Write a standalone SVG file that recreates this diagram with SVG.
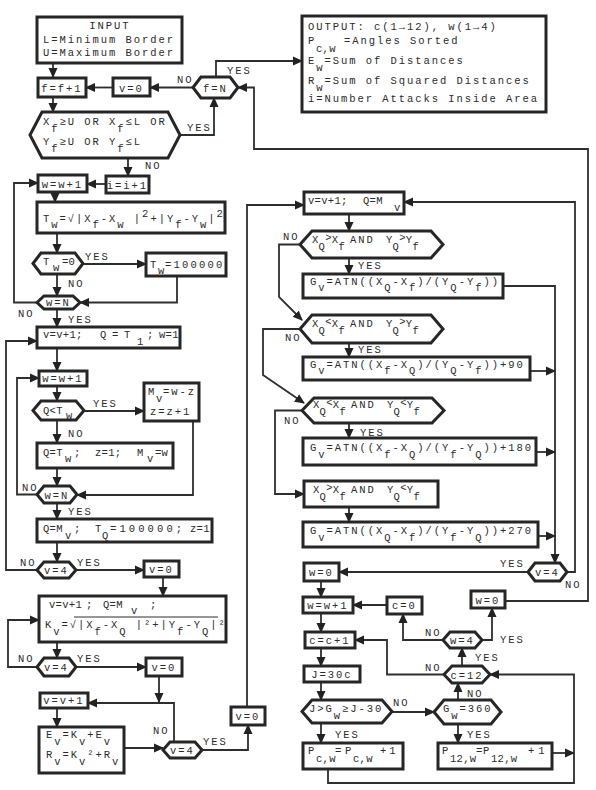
<svg xmlns="http://www.w3.org/2000/svg" width="596" height="790" viewBox="0 0 596 790">
<defs>
<style>
.b{fill:#fff;stroke:#262626;stroke-width:3}
.l{fill:none;stroke:#2e2e2e;stroke-width:1.8;marker-end:url(#ah)}
.n{fill:none;stroke:#2e2e2e;stroke-width:1}
.t{font-family:"Liberation Mono","DejaVu Sans Mono",monospace;font-size:10.5px;letter-spacing:1.95px;fill:#2b2b2b}
.m{text-anchor:middle}
.k{letter-spacing:0.3px}
</style>
<marker id="ah" markerUnits="userSpaceOnUse" markerWidth="10" markerHeight="10" viewBox="0 0 10 10" refX="9" refY="5" orient="auto"><path d="M0,0.5 L10,5 L0,9.5 z" fill="#222"/></marker>
</defs>
<rect width="596" height="790" fill="#fff"/>

<g id="connectors">
<path class="l" d="M53,63 V77"/>
<path class="l" d="M193,87.5 H150"/>
<path class="l" d="M113,87.5 H86"/>
<path class="l" d="M216,77 V61 H302"/>
<path class="l" d="M505,601 H588 V149 H254 V87.5 H238"/>
<path class="l" d="M53,97 V112"/>
<path class="l" d="M180,135 H214 V98"/>
<path class="l" d="M128,158 V176"/>
<path class="l" d="M106,184 H87"/>
<path class="l" d="M55,192 V202"/>
<path class="l" d="M57,233 V253"/>
<path class="l" d="M83,264 H146"/>
<path class="l" d="M177,276 V302.5 H80"/>
<path class="l" d="M57,274 V296"/>
<path class="l" d="M37,302.5 H14 V183 H38"/>
<path class="l" d="M57,309 V327"/>
<path class="l" d="M57,348 V371"/>
<path class="l" d="M57,386 V401"/>
<path class="l" d="M84,411 H144"/>
<path class="l" d="M193,421 V495 H77"/>
<path class="l" d="M57,420 V443"/>
<path class="l" d="M57,468 V486"/>
<path class="l" d="M37,494.5 H17 V378 H39"/>
<path class="l" d="M57,503 V519"/>
<path class="l" d="M57,542 V562"/>
<path class="l" d="M76,570 H144"/>
<path class="l" d="M37,570 H6 V341 H37"/>
<path class="l" d="M163,577 V596"/>
<path class="l" d="M57,642 V658"/>
<path class="l" d="M37,667 H8 V620 H39"/>
<path class="l" d="M76,667 H146"/>
<path class="l" d="M159,676 V702"/>
<path class="l" d="M174,742 V703 H88"/>
<path class="l" d="M57,708 V727"/>
<path class="l" d="M124,748 H163"/>
<path class="l" d="M202,750 H248 V725"/>
<path class="l" d="M247,707 V205 H304"/>
<path class="l" d="M567,572 H575 V202 H404"/>
<path class="l" d="M349,214 V231"/>
<path class="l" d="M300,244.5 H279 V297 L302,320"/>
<path class="l" d="M349,258 V274"/>
<path class="l" d="M503,286 H555 V563"/>
<path class="l" d="M300,329 H263 V375 L304,403"/>
<path class="l" d="M349,343 V357"/>
<path class="l" d="M530,371 H555"/>
<path class="l" d="M302,410.5 H275 V494 H304"/>
<path class="l" d="M349,423 V438"/>
<path class="l" d="M536,452 H555"/>
<path class="l" d="M349,507 V522"/>
<path class="l" d="M538,536 H555"/>
<path class="l" d="M528,572 H339"/>
<path class="l" d="M321,581 V597"/>
<path class="l" d="M387,605 H353"/>
<path class="l" d="M443,640 H403 V614"/>
<path class="l" d="M482,640 H492 V608"/>
<path class="l" d="M321,613 V632"/>
<path class="l" d="M462,666 V648"/>
<path class="l" d="M444,674.5 H387 V640 H355"/>
<path class="l" d="M321,648 V666"/>
<path class="l" d="M321,682 V700"/>
<path class="l" d="M392,712 H434"/>
<path class="l" d="M458,700 V683"/>
<path class="l" d="M458,724 V743"/>
<path class="l" d="M321,723 V743"/>
<path class="l" d="M552,753 H574"/>
<path class="l" d="M328,769 V783 H574 V674.5 H490"/>
</g>

<g id="edge-labels" class="t">
<text x="177" y="83">NO</text>
<text x="227" y="74">YES</text>
<text x="187" y="131">YES</text>
<text x="145" y="169">NO</text>
<text x="85" y="260">YES</text>
<text x="68" y="287">NO</text>
<text x="18" y="317">NO</text>
<text x="68" y="323">YES</text>
<text x="93" y="407">YES</text>
<text x="68" y="437">NO</text>
<text x="22" y="491">NO</text>
<text x="68" y="515">YES</text>
<text x="20" y="566">NO</text>
<text x="77" y="566">YES</text>
<text x="18" y="662">NO</text>
<text x="77" y="662">YES</text>
<text x="153" y="734">NO</text>
<text x="203" y="745">YES</text>
<text x="283" y="240">NO</text>
<text x="358" y="269">YES</text>
<text x="285" y="341">NO</text>
<text x="358" y="353">YES</text>
<text x="284" y="424">NO</text>
<text x="360" y="436">YES</text>
<text x="500" y="567">YES</text>
<text x="565" y="588">NO</text>
<text x="425" y="636">NO</text>
<text x="500" y="643">YES</text>
<text x="475" y="661">YES</text>
<text x="425" y="671">NO</text>
<text x="393" y="706">NO</text>
<text x="467" y="697">NO</text>
<text x="467" y="738">YES</text>
<text x="335" y="738">YES</text>
</g>

<g id="input">
<rect class="b" x="37" y="17" width="145" height="46"/>
<text class="t m" x="110" y="28.5">INPUT</text>
<text class="t" x="43" y="43">L=Minimum Border</text>
<text class="t" x="43" y="56">U=Maximum Border</text>
</g>
<g id="f-inc"><rect class="b" x="38" y="78" width="48" height="19"/><text class="t m" x="62" y="91.5">f=f+1</text></g>
<g id="v0-a"><rect class="b" x="113" y="78" width="37" height="18"/><text class="t m" x="131.5" y="91.5">v=0</text></g>
<g id="f-eq-n"><polygon class="b" points="193,87.5 201,77 230,77 238,87.5 230,98 201,98"/><text class="t m" x="215.5" y="91.5">f=N</text></g>
<g id="bounds">
<polygon class="b" points="30,135 42,112 168,112 180,135 168,158 42,158"/>
<text class="t"><tspan x="43" y="125">X</tspan><tspan y="132">f</tspan><tspan y="125">≥U OR X</tspan><tspan y="132">f</tspan><tspan y="125">≤L OR</tspan></text>
<text class="t"><tspan x="43" y="145">Y</tspan><tspan y="152">f</tspan><tspan y="145">≥U OR Y</tspan><tspan y="152">f</tspan><tspan y="145">≤L</tspan></text>
</g>
<g id="i-inc"><rect class="b" x="106" y="176" width="43" height="17"/><text class="t m" x="127.5" y="188.5">i=i+1</text></g>
<g id="w-inc-1"><rect class="b" x="38" y="175" width="49" height="17"/><text class="t m" x="62.5" y="187.5">w=w+1</text></g>
<g id="tw">
<rect class="b" x="37" y="202" width="188" height="31"/>
<text class="t"><tspan x="43" y="222">T</tspan><tspan y="228">w</tspan><tspan y="222">=√|X</tspan><tspan y="228">f</tspan><tspan y="222">-X</tspan><tspan y="228">w</tspan><tspan y="222"> |</tspan><tspan y="217">2</tspan><tspan y="222">+|Y</tspan><tspan y="228">f</tspan><tspan y="222">-Y</tspan><tspan y="228">w</tspan><tspan y="222">|</tspan><tspan y="217">2</tspan></text>
</g>
<g id="tw-zero"><polygon class="b" points="33,263.5 41,253 75,253 83,263.5 75,274 41,274"/>
<text class="t"><tspan x="43" y="265">T</tspan><tspan x="53" y="271">w</tspan><tspan class="k" x="62" y="265">=0</tspan></text></g>
<g id="tw-big"><rect class="b" x="146" y="253" width="80" height="23"/>
<text class="t"><tspan x="150" y="268">T</tspan><tspan x="158" y="274">w</tspan><tspan x="165" y="268" style="letter-spacing:2.2px">=100000</tspan></text></g>
<g id="w-eq-n-1"><polygon class="b" points="37,302.5 44,296 73,296 80,302.5 73,309 44,309"/><text class="t m" x="58.5" y="306">w=N</text></g>
<g id="init-q">
<rect class="b" x="37" y="327" width="143" height="21"/>
<text class="t"><tspan class="k" x="43" y="338">v=v+1;</tspan><tspan x="100" y="338">Q</tspan><tspan x="112" y="338">=</tspan><tspan x="124" y="338">T</tspan><tspan x="137" y="345">1</tspan><tspan x="147" y="338">;</tspan><tspan class="k" x="159" y="338">w=1</tspan></text>
</g>
<g id="w-inc-2"><rect class="b" x="39" y="371" width="48" height="15"/><text class="t m" x="63" y="381.5">w=w+1</text></g>
<g id="q-lt-tw"><polygon class="b" points="33,410.5 41,401 76,401 84,410.5 76,420 41,420"/>
<text class="t"><tspan class="k" x="43" y="413.5">Q&lt;T</tspan><tspan x="66" y="419">w</tspan></text></g>
<g id="mv">
<rect class="b" x="144" y="383" width="55" height="38"/>
<text class="t"><tspan x="148" y="395">M</tspan><tspan x="156" y="402">v</tspan><tspan x="163" y="395">=w-z</tspan></text>
<text class="t" x="150" y="415">z=z+1</text>
</g>
<g id="q-tw">
<rect class="b" x="37" y="443" width="136" height="25"/>
<text class="t"><tspan class="k" x="43" y="456">Q=T</tspan><tspan x="65" y="462">w</tspan></text>
<text class="t"><tspan x="74" y="456">;</tspan><tspan class="k" x="95" y="456">z=1;</tspan><tspan x="137" y="456">M</tspan><tspan x="147" y="462">v</tspan><tspan class="k" x="155" y="456">=w</tspan></text>
</g>
<g id="w-eq-n-2"><polygon class="b" points="37,494.5 44,486 70,486 77,494.5 70,503 44,503"/><text class="t m" x="57" y="498.5">w=N</text></g>
<g id="q-mv">
<rect class="b" x="37" y="519" width="175" height="23"/>
<text class="t"><tspan class="k" x="43" y="532">Q=M</tspan><tspan x="65" y="539">v</tspan></text>
<text class="t"><tspan x="74" y="532">;</tspan><tspan x="95" y="532">T</tspan><tspan x="102" y="539">Q</tspan><tspan x="110" y="532" style="letter-spacing:3.1px">=100000;</tspan><tspan class="k" x="190" y="532">z=1</tspan></text>
</g>
<g id="v-eq-4-a"><polygon class="b" points="37,570 44,562 69,562 76,570 69,578 44,578"/><text class="t m" x="56.5" y="574">v=4</text></g>
<g id="v0-b"><rect class="b" x="144" y="561" width="35" height="16"/><text class="t m" x="161.5" y="573">v=0</text></g>
<g id="kv">
<rect class="b" x="39" y="596" width="187" height="46"/>
<text class="t"><tspan class="k" x="49" y="608">v=v+1</tspan><tspan x="86" y="608">;</tspan><tspan class="k" x="103" y="608">Q=M</tspan><tspan x="131" y="614">v</tspan><tspan x="150" y="608">;</tspan></text>
<text class="t"><tspan x="45" y="628">K</tspan><tspan y="635">v</tspan><tspan y="628">=√|X</tspan><tspan y="635">f</tspan><tspan y="628">-X</tspan><tspan y="635">Q</tspan><tspan y="628"> |²+|Y</tspan><tspan y="635">f</tspan><tspan y="628">-Y</tspan><tspan y="635">Q</tspan><tspan y="628">|²</tspan></text>
<line class="n" x1="74" y1="617" x2="218" y2="617"/>
</g>
<g id="v-eq-4-b"><polygon class="b" points="37,667 44,658 69,658 76,667 69,676 44,676"/><text class="t m" x="56.5" y="671">v=4</text></g>
<g id="v0-c"><rect class="b" x="146" y="658" width="36" height="18"/><text class="t m" x="164" y="671">v=0</text></g>
<g id="v-inc"><rect class="b" x="40" y="693" width="48" height="15"/><text class="t m" x="64" y="704">v=v+1</text></g>
<g id="er">
<rect class="b" x="39" y="727" width="85" height="46"/>
<text class="t"><tspan x="46" y="738">E</tspan><tspan y="745">v</tspan><tspan y="738">=K</tspan><tspan y="745">v</tspan><tspan y="738">+E</tspan><tspan y="745">v</tspan></text>
<text class="t"><tspan x="46" y="758">R</tspan><tspan y="765">v</tspan><tspan y="758">=K</tspan><tspan y="765">v</tspan><tspan y="758">²+R</tspan><tspan y="765">v</tspan></text>
</g>
<g id="v-eq-4-c"><polygon class="b" points="163,750 170,742 195,742 202,750 195,758 170,758"/><text class="t m" x="182.5" y="754">v=4</text></g>
<g id="v0-d"><rect class="b" x="231" y="707" width="34" height="18"/><text class="t m" x="248" y="720">v=0</text></g>

<g id="output">
<rect class="b" x="302" y="16" width="244" height="96"/>
<text class="t" x="308" y="30">OUTPUT: c(1→12), w(1→4)</text>
<text class="t"><tspan x="308" y="44">P</tspan><tspan class="k" x="316" y="52">c,w</tspan><tspan x="344" y="44">=Angles Sorted</tspan></text>
<text class="t"><tspan x="308" y="64">E</tspan><tspan y="71">w</tspan><tspan y="64">=Sum of Distances</tspan></text>
<text class="t"><tspan x="308" y="84">R</tspan><tspan y="91">w</tspan><tspan y="84">=Sum of Squared Distances</tspan></text>
<text class="t" x="308" y="102">i=Number Attacks Inside Area</text>
</g>
<g id="v-inc-q">
<rect class="b" x="304" y="192" width="100" height="22"/>
<text class="t"><tspan class="k" x="308" y="204">v=v+1;</tspan><tspan class="k" x="363" y="204">Q=M</tspan><tspan x="394" y="211">v</tspan></text>
</g>
<g id="quad-1">
<polygon class="b" points="300,244.5 312,231 431,231 443,244.5 431,258 312,258"/>
<text class="t"><tspan class="k" x="312" y="243">X</tspan><tspan class="k" y="250">Q</tspan><tspan class="k" y="241">&gt;</tspan><tspan class="k" y="243">X</tspan><tspan class="k" y="250">f</tspan><tspan x="350" y="243">AND</tspan><tspan class="k" x="386" y="243">Y</tspan><tspan class="k" y="250">Q</tspan><tspan class="k" y="241">&gt;</tspan><tspan class="k" y="243">Y</tspan><tspan class="k" y="250">f</tspan></text>
</g>
<g id="g-1">
<rect class="b" x="303" y="274" width="200" height="24"/>
<text class="t"><tspan x="310" y="285">G</tspan><tspan y="291">v</tspan><tspan y="285">=ATN((X</tspan><tspan y="291">Q</tspan><tspan y="285">-X</tspan><tspan y="291">f</tspan><tspan y="285">)/(Y</tspan><tspan y="291">Q</tspan><tspan y="285">-Y</tspan><tspan y="291">f</tspan><tspan y="285">))</tspan></text>
</g>
<g id="quad-2">
<polygon class="b" points="300,329 312,315 431,315 443,329 431,343 312,343"/>
<text class="t"><tspan class="k" x="312" y="327">X</tspan><tspan class="k" y="334">Q</tspan><tspan class="k" y="325">&lt;</tspan><tspan class="k" y="327">X</tspan><tspan class="k" y="334">f</tspan><tspan x="350" y="327">AND</tspan><tspan class="k" x="386" y="327">Y</tspan><tspan class="k" y="334">Q</tspan><tspan class="k" y="325">&gt;</tspan><tspan class="k" y="327">Y</tspan><tspan class="k" y="334">f</tspan></text>
</g>
<g id="g-2">
<rect class="b" x="303" y="357" width="227" height="23"/>
<text class="t"><tspan x="310" y="368">G</tspan><tspan y="374">v</tspan><tspan y="368">=ATN((X</tspan><tspan y="374">f</tspan><tspan y="368">-X</tspan><tspan y="374">Q</tspan><tspan y="368">)/(Y</tspan><tspan y="374">Q</tspan><tspan y="368">-Y</tspan><tspan y="374">f</tspan><tspan y="368">))+90</tspan></text>
</g>
<g id="quad-3">
<polygon class="b" points="302,410.5 314,398 432,398 444,410.5 432,423 314,423"/>
<text class="t"><tspan class="k" x="313" y="408">X</tspan><tspan class="k" y="415">Q</tspan><tspan class="k" y="406">&lt;</tspan><tspan class="k" y="408">X</tspan><tspan class="k" y="415">f</tspan><tspan x="351" y="408">AND</tspan><tspan class="k" x="387" y="408">Y</tspan><tspan class="k" y="415">Q</tspan><tspan class="k" y="406">&lt;</tspan><tspan class="k" y="408">Y</tspan><tspan class="k" y="415">f</tspan></text>
</g>
<g id="g-3">
<rect class="b" x="303" y="438" width="233" height="27"/>
<text class="t"><tspan x="310" y="451">G</tspan><tspan y="458">v</tspan><tspan y="451">=ATN((X</tspan><tspan y="458">f</tspan><tspan y="451">-X</tspan><tspan y="458">Q</tspan><tspan y="451">)/(Y</tspan><tspan y="458">f</tspan><tspan y="451">-Y</tspan><tspan y="458">Q</tspan><tspan y="451">))+180</tspan></text>
</g>
<g id="quad-4">
<rect class="b" x="304" y="481" width="134" height="26"/>
<text class="t"><tspan class="k" x="313" y="493">X</tspan><tspan class="k" y="500">Q</tspan><tspan class="k" y="491">&gt;</tspan><tspan class="k" y="493">X</tspan><tspan class="k" y="500">f</tspan><tspan x="351" y="493">AND</tspan><tspan class="k" x="387" y="493">Y</tspan><tspan class="k" y="500">Q</tspan><tspan class="k" y="491">&lt;</tspan><tspan class="k" y="493">Y</tspan><tspan class="k" y="500">f</tspan></text>
</g>
<g id="g-4">
<rect class="b" x="303" y="522" width="235" height="25"/>
<text class="t"><tspan x="310" y="534">G</tspan><tspan y="541">v</tspan><tspan y="534">=ATN((X</tspan><tspan y="541">Q</tspan><tspan y="534">-X</tspan><tspan y="541">f</tspan><tspan y="534">)/(Y</tspan><tspan y="541">f</tspan><tspan y="534">-Y</tspan><tspan y="541">Q</tspan><tspan y="534">))+270</tspan></text>
</g>
<g id="v-eq-4-d"><polygon class="b" points="528,572 535,563 560,563 567,572 560,581 535,581"/><text class="t m" x="547.5" y="576">v=4</text></g>
<g id="w0-a"><rect class="b" x="304" y="563" width="35" height="18"/><text class="t m" x="321.5" y="576">w=0</text></g>
<g id="w-inc-3"><rect class="b" x="303" y="597" width="50" height="16"/><text class="t m" x="328" y="609">w=w+1</text></g>
<g id="c0"><rect class="b" x="387" y="597" width="35" height="17"/><text class="t m" x="404.5" y="609">c=0</text></g>
<g id="w0-b"><rect class="b" x="471" y="591" width="34" height="17"/><text class="t m" x="488" y="603.5">w=0</text></g>
<g id="w-eq-4"><polygon class="b" points="443,640 450,632 475,632 482,640 475,648 450,648"/><text class="t m" x="462.5" y="644">w=4</text></g>
<g id="c-inc"><rect class="b" x="305" y="632" width="50" height="16"/><text class="t m" x="330" y="644">c=c+1</text></g>
<g id="j30c"><rect class="b" x="304" y="666" width="56" height="16"/><text class="t m" x="332" y="678">J=30c</text></g>
<g id="c-eq-12"><polygon class="b" points="444,674.5 452,666 482,666 490,674.5 482,683 452,683"/><text class="t m" x="467" y="678.5">c=12</text></g>
<g id="j-range">
<polygon class="b" points="302,711.5 312,700 382,700 392,711.5 382,723 312,723"/>
<text class="t"><tspan x="309" y="712">J&gt;G</tspan><tspan y="719">w</tspan><tspan y="712">≥J-30</tspan></text>
</g>
<g id="g-360">
<polygon class="b" points="434,712 444,700 491,700 501,712 491,724 444,724"/>
<text class="t"><tspan x="443" y="712">G</tspan><tspan y="719">w</tspan><tspan y="712">=360</tspan></text>
</g>
<g id="p-cw">
<rect class="b" x="303" y="743" width="100" height="26"/>
<text class="t"><tspan x="308" y="754">P</tspan><tspan class="k" x="316" y="762">c,w</tspan><tspan x="335" y="754">=</tspan><tspan x="345" y="754">P</tspan><tspan class="k" x="353" y="762">c,w</tspan><tspan x="380" y="754" style="letter-spacing:3px">+1</tspan></text>
</g>
<g id="p-12">
<rect class="b" x="438" y="743" width="114" height="26"/>
<text class="t"><tspan x="442" y="754">P</tspan><tspan class="k" x="450" y="762">12,w</tspan><tspan x="476" y="754">=</tspan><tspan x="483" y="754">P</tspan><tspan class="k" x="491" y="762">12,w</tspan><tspan x="528" y="754" style="letter-spacing:4px">+1</tspan></text>
</g>
</svg>
